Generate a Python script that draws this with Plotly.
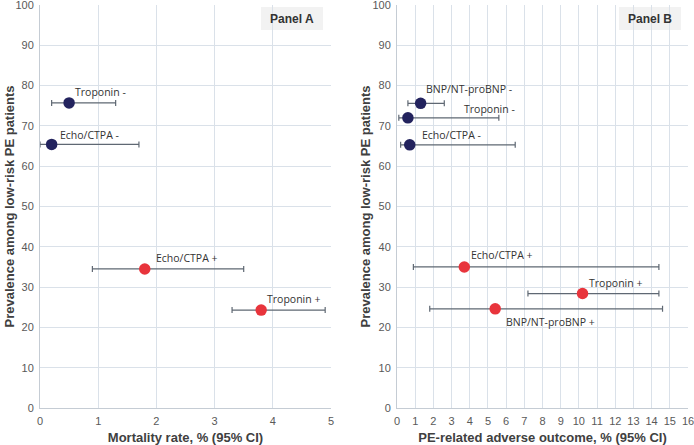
import plotly.graph_objects as go

# Panel A data (mortality)
a_labels = ["Troponin -", "Echo/CTPA -", "Echo/CTPA +", "Troponin +"]
a_x = [0.5, 0.2, 1.8, 3.8]
a_lo = [0.2, 0.0, 0.9, 3.3]
a_hi = [1.3, 1.7, 3.5, 4.9]
a_y = [75.7, 65.4, 34.5, 24.3]
a_pos = ["neg", "neg", "pos", "pos"]

# Panel B data (PE-related adverse outcome)
b_labels = ["BNP/NT-proBNP -", "Troponin -", "Echo/CTPA -", "Echo/CTPA +", "Troponin +", "BNP/NT-proBNP +"]
b_x = [1.3, 0.6, 0.7, 3.7, 10.2, 5.4]
b_lo = [0.6, 0.1, 0.2, 0.9, 7.2, 1.8]
b_hi = [2.6, 5.6, 6.5, 14.4, 14.4, 14.6]
b_y = [75.6, 72.0, 65.3, 35.0, 28.4, 24.6]
b_pos = ["neg", "neg", "neg", "pos", "pos", "pos"]

y_title = "Prevalence among low-risk PE patients"
xa_title = "Mortality rate, % (95% CI)"
xb_title = "PE-related adverse outcome, % (95% CI)"

# label offsets (pixels) relative to each point
a_shift = [(31, 11), (38, 9), (42, 11), (32, 11)]
b_shift = [(48, 14), (82, 9), (42, 10), (38, 12), (33, 11), (55, -13)]

NAVY = "#23235e"
RED = "#e8343c"
ERR = "#5f6873"
GRID = "#dae1e9"

fig = go.Figure()

def add_panel(labels, xs, lo, hi, ys, pos, shifts, xa, ya):
    colors = [NAVY if p == "neg" else RED for p in pos]
    fig.add_trace(go.Scatter(
        x=xs, y=ys, mode="markers", xaxis=xa, yaxis=ya,
        marker=dict(size=11.5, color=colors),
        error_x=dict(type="data", symmetric=False,
                     array=[h - v for h, v in zip(hi, xs)],
                     arrayminus=[v - l for v, l in zip(xs, lo)],
                     color=ERR, thickness=1.2, width=3),
        showlegend=False, hoverinfo="skip"))
    for lab, x, y, (dx, dy) in zip(labels, xs, ys, shifts):
        fig.add_annotation(x=x, y=y, xref=xa, yref=ya, text=lab, showarrow=False,
                           xshift=dx, yshift=dy,
                           font=dict(family="Open Sans", size=10.5, color="#333333"))

add_panel(a_labels, a_x, a_lo, a_hi, a_y, a_pos, a_shift, "x", "y")
add_panel(b_labels, b_x, b_lo, b_hi, b_y, b_pos, b_shift, "x2", "y2")

W, H = 694, 445
axis_common = dict(showgrid=True, gridcolor=GRID, gridwidth=1, showline=True,
                   linecolor="#c5ccd4", linewidth=1, zeroline=False, ticks="",
                   ticklabeloverflow="allow", automargin=False, ticklabelstandoff=3,
                   tickfont=dict(family="Liberation Sans", size=11, color="#595959"))
title_font = dict(family="Liberation Sans", size=13, color="#404040")

fig.update_layout(
    width=W, height=H, margin=dict(l=0, r=0, t=5, b=37),
    paper_bgcolor="white", plot_bgcolor="white",
    xaxis=dict(domain=[40 / W, 331 / W], range=[0, 5], dtick=1, anchor="y",
               title=dict(text="<b>" + xa_title + "</b>", font=title_font),
               **axis_common),
    yaxis=dict(domain=[0, 1], range=[0, 100], dtick=10, anchor="x", **axis_common),
    xaxis2=dict(domain=[397 / W, 688 / W], range=[0, 16], dtick=1, anchor="y2",
                title=dict(text="<b>" + xb_title + "</b>", font=title_font),
                **axis_common),
    yaxis2=dict(domain=[0, 1], range=[0, 100], dtick=10, anchor="x2", **axis_common),
)

# Y axis titles
for xc in (9, 365):
    fig.add_annotation(xref="paper", yref="paper", x=xc / W, y=0.5, xanchor="center", yanchor="middle",
                       text="<b>" + y_title + "</b>", textangle=-90, showarrow=False, font=title_font)

# Panel tags
for txt, x0, x1 in (("Panel A", 261, 323), ("Panel B", 619, 681)):
    fig.add_shape(type="rect", xref="paper", yref="paper",
                  x0=x0 / W, x1=x1 / W, y0=1 - (30 - 5) / 403, y1=1 - (7 - 5) / 403,
                  fillcolor="#f2f2f2", line=dict(width=0), layer="below")
    fig.add_annotation(xref="paper", yref="paper", x=(x0 + x1) / 2 / W, y=1 - (18.5 - 5) / 403,
                       xanchor="center", yanchor="middle",
                       text="<b>" + txt + "</b>", showarrow=False,
                       font=dict(family="Liberation Sans", size=12, color="#333333"))

fig.write_html("out.html", config={"displayModeBar": False},
               post_script="document.body.style.margin='0';document.body.style.overflow='hidden';")
